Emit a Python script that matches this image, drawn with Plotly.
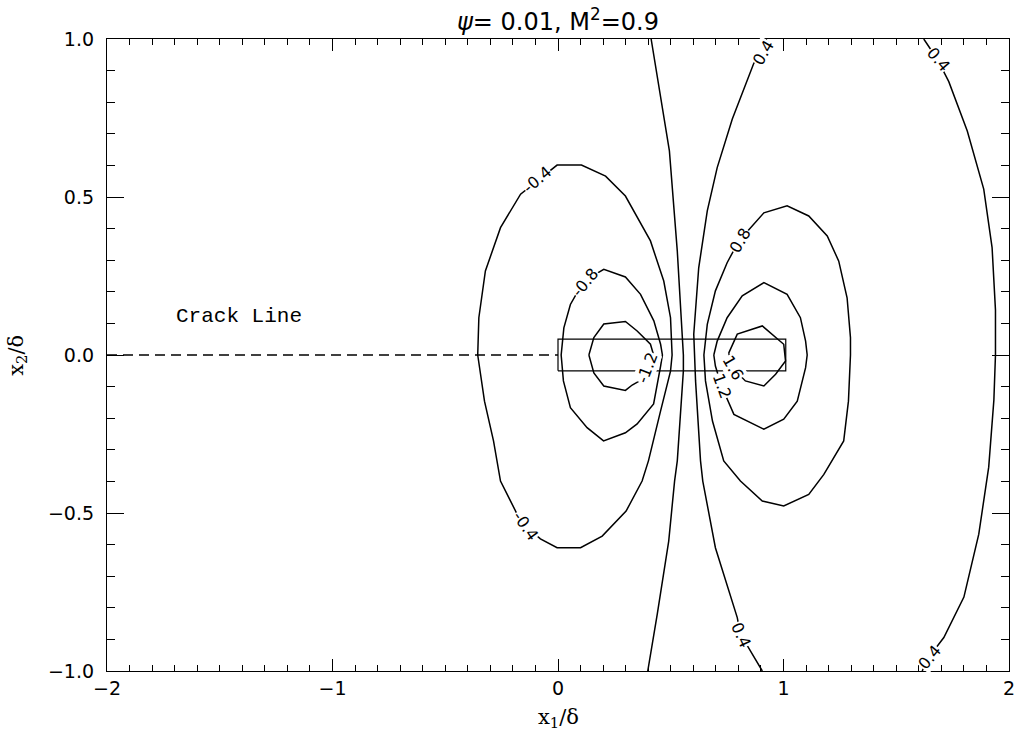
import plotly.graph_objects as go

# Traced contour paths in (x1/delta, x2/delta); closed loops repeat their first point.
neg04_x = [-0.356, -0.351, -0.322, -0.255, -0.166, -0.092, -0.004, 0.104, 0.211, 0.299, 0.410, 0.469,
           0.499, 0.506, 0.499, 0.455, 0.401, 0.373, 0.302, 0.196, 0.100, -0.004, -0.078, -0.135,
           -0.181, -0.255, -0.286, -0.326, -0.356]
neg04_y = [0.0, 0.118, 0.266, 0.403, 0.509, 0.551, 0.601, 0.601, 0.566, 0.503, 0.361, 0.234,
           0.118, 0.0, -0.051, -0.177, -0.335, -0.399, -0.494, -0.573, -0.610, -0.610, -0.582, -0.547,
           -0.504, -0.399, -0.272, -0.146, 0.0]

neg08_x = [0.014, 0.026, 0.055, 0.114, 0.203, 0.299, 0.366, 0.425, 0.455, 0.463, 0.455, 0.424,
           0.351, 0.299, 0.202, 0.129, 0.055, 0.024, 0.014]
neg08_y = [0.0, 0.086, 0.160, 0.234, 0.271, 0.247, 0.192, 0.108, 0.034, 0.0, -0.035, -0.155,
           -0.218, -0.246, -0.272, -0.230, -0.167, -0.082, 0.0]

neg12_x = [0.137, 0.159, 0.203, 0.299, 0.351, 0.410, 0.424, 0.401, 0.329, 0.299, 0.203, 0.159, 0.137]
neg12_y = [0.0, 0.055, 0.098, 0.106, 0.076, 0.034, 0.0, -0.066, -0.095, -0.112, -0.098, -0.057, 0.0]

zero_x = [0.413, 0.458, 0.494, 0.529, 0.556, 0.556, 0.529, 0.517, 0.491, 0.440, 0.398]
zero_y = [1.0, 0.804, 0.646, 0.329, 0.0, -0.05, -0.335, -0.399, -0.589, -0.821, -1.0]

pos04a_x = [0.925, 0.867, 0.773, 0.706, 0.662, 0.624, 0.602, 0.605, 0.610, 0.632, 0.642, 0.698,
            0.795, 0.809, 0.906]
pos04a_y = [1.0, 0.921, 0.747, 0.593, 0.456, 0.276, 0.066, 0.0, -0.082, -0.335, -0.399, -0.610,
            -0.831, -0.883, -1.0]

pos04b_x = [1.622, 1.682, 1.733, 1.815, 1.888, 1.925, 1.940, 1.940, 1.933, 1.910, 1.866, 1.800,
            1.711, 1.644, 1.615]
pos04b_y = [1.0, 0.936, 0.865, 0.709, 0.525, 0.340, 0.142, 0.0, -0.142, -0.355, -0.567, -0.766,
            -0.894, -0.957, -1.0]

pos08_x = [0.647, 0.662, 0.698, 0.750, 0.802, 0.913, 1.016, 1.112, 1.194, 1.245, 1.282, 1.297,
           1.297, 1.288, 1.267, 1.179, 1.112, 1.001, 0.906, 0.809, 0.735, 0.685, 0.654, 0.647]
pos08_y = [0.0, 0.097, 0.203, 0.292, 0.361, 0.450, 0.472, 0.440, 0.377, 0.297, 0.181, 0.055,
           0.0, -0.146, -0.272, -0.378, -0.441, -0.478, -0.462, -0.399, -0.335, -0.209, -0.082, 0.0]

pos12_x = [0.691, 0.706, 0.750, 0.817, 0.913, 1.016, 1.075, 1.098, 1.105, 1.098, 1.061, 1.001,
           0.913, 0.780, 0.725, 0.698, 0.691]
pos12_y = [0.0, 0.044, 0.118, 0.187, 0.229, 0.192, 0.118, 0.044, 0.0, -0.040, -0.146, -0.203,
           -0.235, -0.188, -0.098, -0.035, 0.0]

pos16_x = [0.757, 0.795, 0.906, 1.001, 1.009, 0.965, 0.913, 0.831, 0.774, 0.757]
pos16_y = [0.006, 0.066, 0.092, 0.034, -0.019, -0.061, -0.098, -0.082, -0.041, 0.006]

# Contour labels: text, position, rotation
label_text = ["-0.4", "-0.4", "-0.8", "-1.2", "0.4", "0.4", "0.4", "0.4", "0.8", "1.2", "1.6"]
label_x = [-0.091, -0.145, 0.118, 0.397, 0.912, 0.809, 1.688, 1.647, 0.809, 0.725, 0.774]
label_y = [0.554, -0.540, 0.231, -0.041, 0.956, -0.886, 0.936, -0.957, 0.361, -0.098, -0.041]
label_angle = [-40, 55, -50, -69, -60, 65, 50, -50, -60, 70, 60]

# Crack line along x2 = 0 and the small rectangular zone ahead of the tip
crack_x = [-2.0, 0.0]
crack_y = [0.0, 0.0]
zone_x = [0.0, 1.01, 1.01, 0.0, 0.0]
zone_y = [-0.05, -0.05, 0.05, 0.05, -0.05]

x_ticks = [-2, -1, 0, 1, 2]
y_ticks = [-1.0, -0.5, 0.0, 0.5, 1.0]

paths = [
    (neg04_x, neg04_y), (neg08_x, neg08_y), (neg12_x, neg12_y), (zero_x, zero_y),
    (pos04a_x, pos04a_y), (pos04b_x, pos04b_y), (pos08_x, pos08_y), (pos12_x, pos12_y),
    (pos16_x, pos16_y),
]

fig = go.Figure()
for px, py in paths:
    fig.add_trace(go.Scatter(x=px, y=py, mode="lines", line=dict(color="black", width=1.5),
                             hoverinfo="skip", showlegend=False))

fig.add_trace(go.Scatter(x=crack_x, y=crack_y, mode="lines",
                         line=dict(color="black", width=1.5, dash="10px,6px"),
                         hoverinfo="skip", showlegend=False))
fig.add_trace(go.Scatter(x=zone_x, y=zone_y, mode="lines", line=dict(color="black", width=1.2),
                         hoverinfo="skip", showlegend=False))

annotations = []
for t, lx, ly, ang in zip(label_text, label_x, label_y, label_angle):
    annotations.append(dict(x=lx, y=ly, xref="x", yref="y", text=t, showarrow=False,
                            textangle=ang, bgcolor="white", borderpad=0,
                            font=dict(family="DejaVu Sans", size=16, color="black")))

annotations.append(dict(x=-1.701, y=0.123, xref="x", yref="y", text="Crack Line",
                        showarrow=False, xanchor="left", yanchor="middle",
                        font=dict(family="Liberation Mono", size=21, color="black")))

annotations.append(dict(x=0.5, y=1.0, xref="paper", yref="paper", yanchor="bottom", yshift=1,
                        text="<i>ψ</i>= 0.01, M<sup>2</sup>=0.9", showarrow=False,
                        font=dict(family="DejaVu Sans", size=24, color="black")))
annotations.append(dict(x=0.5, y=-0.074, xref="paper", yref="paper", yanchor="middle",
                        text="x<sub>1</sub>/δ", showarrow=False,
                        font=dict(family="DejaVu Serif", size=21, color="black")))
annotations.append(dict(x=-0.1, y=0.5, xref="paper", yref="paper", xanchor="center",
                        text="x<sub>2</sub>/δ", showarrow=False, textangle=-90,
                        font=dict(family="DejaVu Serif", size=21, color="black")))

axis_common = dict(showgrid=False, zeroline=False, showline=True, linecolor="black",
                   linewidth=1.3, mirror="ticks", ticks="inside", tickcolor="black",
                   tickwidth=1.2, ticklabeloverflow="allow", automargin=False,
                   tickfont=dict(family="DejaVu Sans", size=19, color="black"))

fig.update_layout(
    width=1015, height=735,
    margin=dict(l=107, r=6, t=39, b=64, autoexpand=False),
    paper_bgcolor="white", plot_bgcolor="white",
    annotations=annotations,
    showlegend=False,
    xaxis=dict(range=[-2, 2], tickvals=x_ticks, ticklen=12,
               minor=dict(dtick=0.1, ticks="inside", ticklen=6, tickcolor="black", tickwidth=1),
               **axis_common),
    yaxis=dict(range=[-1, 1], tickvals=y_ticks, tickformat=".1f", ticklen=17,
               ticklabelstandoff=8,
               minor=dict(dtick=0.1, ticks="inside", ticklen=8, tickcolor="black", tickwidth=1),
               **axis_common),
)

fig.write_html("out.html")
